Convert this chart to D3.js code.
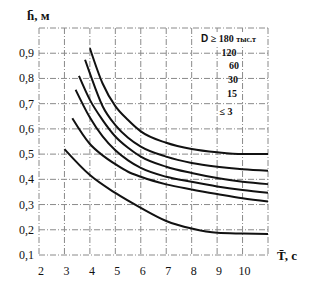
<!DOCTYPE html>
<html>
<head>
<meta charset="utf-8">
<script src="https://cdn.jsdelivr.net/npm/d3@7"></script>
<style>
  body { margin: 0; background: #fff; }
  text { font-family: "Liberation Serif", "DejaVu Serif", serif; fill: #111; }
  .grid line { stroke: #8a8a8a; stroke-width: 1; stroke-dasharray: 6,2,1,2; }
  .curve { fill: none; stroke: #111; stroke-width: 2; }
</style>
</head>
<body>
<script>
// period T (s) ticks and wave height h (m) ticks
var xTicks = [2, 3, 4, 5, 6, 7, 8, 9, 10];
var yTicks = [0.1, 0.2, 0.3, 0.4, 0.5, 0.6, 0.7, 0.8, 0.9];

// curves, [T, h]
var curve180 = [[4.0,0.92],[4.5,0.78],[5,0.69],[5.5,0.635],[6,0.59],[7,0.545],[8,0.52],[9,0.507],[10,0.50],[11,0.50]];
var curve120 = [[3.81,0.874],[4,0.82],[4.5,0.69],[5,0.615],[5.5,0.565],[6,0.53],[7,0.49],[8,0.465],[9,0.45],[10,0.44],[11,0.434]];
var curve60  = [[3.57,0.81],[4,0.715],[4.5,0.635],[5,0.57],[5.5,0.525],[6,0.49],[7,0.45],[8,0.425],[9,0.405],[10,0.39],[11,0.381]];
var curve30  = [[3.44,0.755],[4,0.645],[4.5,0.57],[5,0.515],[5.5,0.475],[6,0.445],[7,0.41],[8,0.39],[9,0.372],[10,0.358],[11,0.347]];
var curve15  = [[3.31,0.642],[4,0.54],[4.5,0.495],[5,0.46],[5.5,0.43],[6,0.41],[7,0.38],[8,0.36],[9,0.342],[10,0.325],[11,0.312]];
var curve3   = [[3.0,0.52],[4,0.417],[5,0.346],[6,0.287],[7,0.235],[8,0.205],[9,0.188],[10,0.185],[11,0.183]];

var legendLabels = ["120", "60", "30", "15", "\u2264 3"];

var width = 318, height = 283;
var svg = d3.select("body").append("svg")
  .attr("width", width).attr("height", height);

var x = d3.scaleLinear().domain([2, 11]).range([39, 268]);
var y = d3.scaleLinear().domain([0.1, 1.0]).range([255, 28]);

// grid, dash-dot like the scan
var grid = svg.append("g").attr("class", "grid");
grid.selectAll(".v").data(d3.range(2, 12)).enter().append("line")
  .attr("x1", d => x(d)).attr("x2", d => x(d))
  .attr("y1", y(1.0)).attr("y2", y(0.1));
grid.selectAll(".h").data(d3.range(1, 11).map(d => d / 10)).enter().append("line")
  .attr("x1", x(2)).attr("x2", x(11))
  .attr("y1", d => y(d)).attr("y2", d => y(d));

// tick labels
svg.selectAll(".yl").data(yTicks).enter().append("text")
  .attr("x", 34).attr("y", d => y(d) + 4)
  .attr("text-anchor", "end").style("font-size", "12px")
  .text(d => d3.format(".1f")(d).replace(".", ","));
svg.selectAll(".xl").data(xTicks).enter().append("text")
  .attr("x", d => x(d) + 2).attr("y", 275)
  .attr("text-anchor", "middle").style("font-size", "12px")
  .text(d => d);

// axis titles
svg.append("text").attr("x", 27).attr("y", 20)
  .style("font-size", "13px").style("font-weight", "bold")
  .text("h\u0304, м");
svg.append("text").attr("x", 277).attr("y", 260)
  .style("font-size", "13px").style("font-weight", "bold")
  .text("T\u0304, с");

// curves
var line = d3.line().x(d => x(d[0])).y(d => y(d[1])).curve(d3.curveMonotoneX);
svg.selectAll(".curve").data([curve180, curve120, curve60, curve30, curve15, curve3])
  .enter().append("path").attr("class", "curve").attr("d", line);

// legend labels
var lg = svg.append("g");
lg.append("rect").attr("x", 200).attr("y", 32).attr("width", 67).attr("height", 13).attr("fill", "#fff");
var t0 = lg.append("text").attr("x", 201).attr("y", 42).style("font-size", "10px").style("font-weight", "bold");
t0.append("tspan").style("font-family", "'Liberation Sans', sans-serif").text("D");
t0.append("tspan").text(" \u2265 180 ");
t0.append("tspan").style("font-size", "8px").text("тыс.т");
var ly = [56, 69, 83, 97, 115];
var lx = [229, 234, 233, 232, 226];
lg.selectAll(".ll").data(legendLabels).enter().append("text")
  .attr("x", (d, i) => lx[i]).attr("y", (d, i) => ly[i])
  .attr("text-anchor", "middle")
  .style("font-size", "10px").style("font-weight", "bold")
  .text(d => d);
</script>
</body>
</html>
